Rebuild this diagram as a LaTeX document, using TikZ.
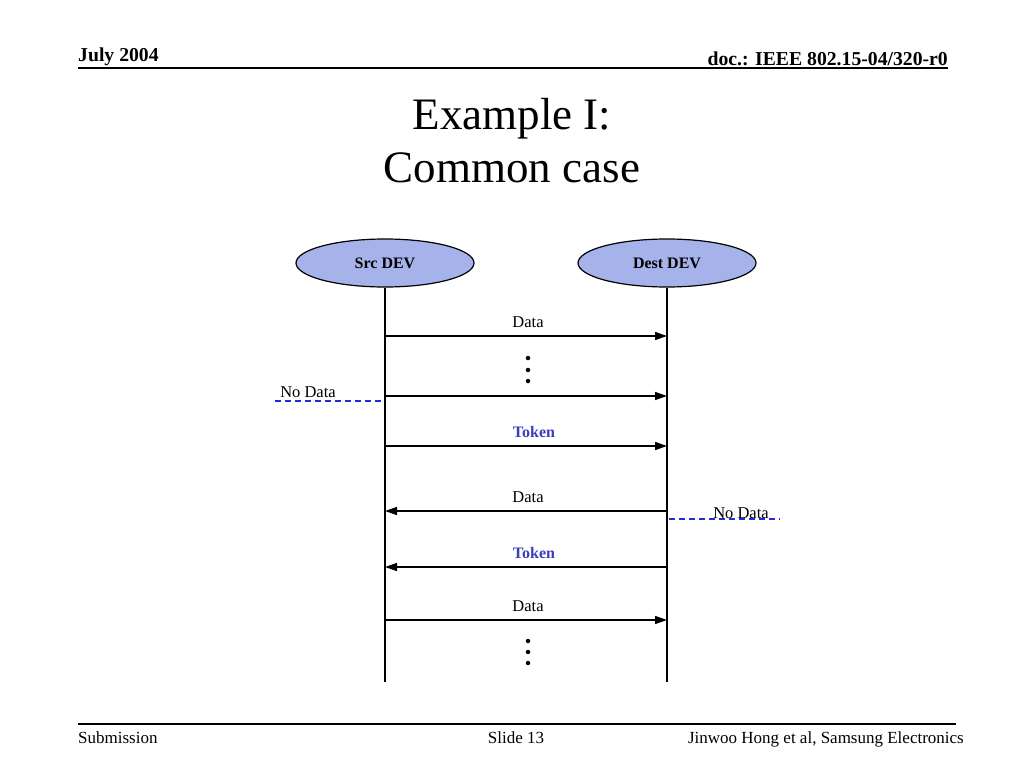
\documentclass[tikz,border=0pt]{standalone}
\usepackage{fontspec}
\setmainfont{Liberation Serif}
\usetikzlibrary{arrows.meta,shapes.geometric}
\definecolor{devfill}{RGB}{166,178,234}
\definecolor{tokenblue}{RGB}{60,60,190}
\definecolor{dashblue}{RGB}{40,40,220}
\tikzset{
	dev/.style={ellipse, draw, line width=1.2pt, fill=devfill, minimum width=178pt, minimum height=48pt, inner sep=0pt, font=\fontsize{16}{19}\selectfont\bfseries},
	msg/.style={line width=1.5pt, -{Triangle[length=12pt,width=8pt]}},
	life/.style={line width=1.5pt},
	lbl/.style={anchor=base, inner sep=0pt, font=\fontsize{16.5}{19}\selectfont},
	toklbl/.style={lbl, text=tokenblue, font=\fontsize{16}{19}\selectfont\bfseries},
	nodata/.style={draw=dashblue, dash pattern=on 6pt off 4pt, line width=1.4pt},
	dotmark/.style={circle, fill=black, inner sep=0pt, minimum size=4.5pt},
	head/.style={inner sep=0pt, font=\fontsize{19.7}{22}\selectfont\bfseries},
	foot/.style={inner sep=0pt, font=\fontsize{17}{20}\selectfont},
	ttl/.style={anchor=base, inner sep=0pt, font=\fontsize{45}{53}\selectfont}
}
\begin{document}
\begin{tikzpicture}[x=1pt, y=-1pt]
			%%%%% START %%%%%
			
			\useasboundingbox (0,0) rectangle (1024,768);
			\fill[white] (0,0) rectangle (1024,768);
			
			\node[head, anchor=base west] (date) at (78,62) {July 2004};
			\node[head, anchor=base east] (docnum) at (948,65) {doc.: IEEE 802.15-04/320-r0};
			\draw[line width=2pt] (78,68) -- (948,68);
			
			\node[ttl] (title) at (512,129) {Example I:};
			\node[ttl] (subtitle) at (512,182) {Common case};
			
			\node[dev] (src) at (385,263) {Src DEV};
			\node[dev] (dest) at (667,263) {Dest DEV};
			\coordinate (srcend) at (385,682);
			\coordinate (destend) at (667,682);
			\draw[life] (src.south) -- (srcend);
			\draw[life] (dest.south) -- (destend);
			
			\foreach \y/\n in {336/1,396/2,446/3,511/4,567/5,620/6}
			{
				\coordinate (s\n) at (385,\y);
				\coordinate (d\n) at (667,\y);
			}
			
			\draw[msg] (s1) -- (d1);
			\draw[msg] (s2) -- (d2);
			\draw[msg] (s3) -- (d3);
			\draw[msg] (d4) -- (s4);
			\draw[msg] (d5) -- (s5);
			\draw[msg] (s6) -- (d6);
			
			\node[lbl] (data1) at (528,327) {Data};
			\node[toklbl] (token1) at (534,437) {Token};
			\node[lbl] (data2) at (528,502) {Data};
			\node[toklbl] (token2) at (534,558) {Token};
			\node[lbl] (data3) at (528,611) {Data};
			
			\foreach \y in {358,370,381,641,652,663}
				\node[dotmark] (dot\y) at (528,\y) {};
			
			\node[lbl] (nodataL) at (308,397) {No Data};
			\coordinate (nodataLa) at (275,401);
			\coordinate (nodataLb) at (384,401);
			\draw[nodata] (nodataLa) -- (nodataLb);
			
			\node[lbl] (nodataR) at (741,518) {No Data};
			\coordinate (nodataRa) at (669,519);
			\coordinate (nodataRb) at (780,519);
			\draw[nodata] (nodataRa) -- (nodataRb);
			
			\draw[line width=1.5pt] (78,724) -- (956,724);
			\node[foot, anchor=base west] (submission) at (78,743) {Submission};
			\node[foot, anchor=base] (slide) at (516,743) {Slide 13};
			\node[foot, anchor=base east] (authors) at (964,743) {Jinwoo Hong et al, Samsung Electronics};
			
			%%%%% END %%%%%
\end{tikzpicture}
\end{document}
